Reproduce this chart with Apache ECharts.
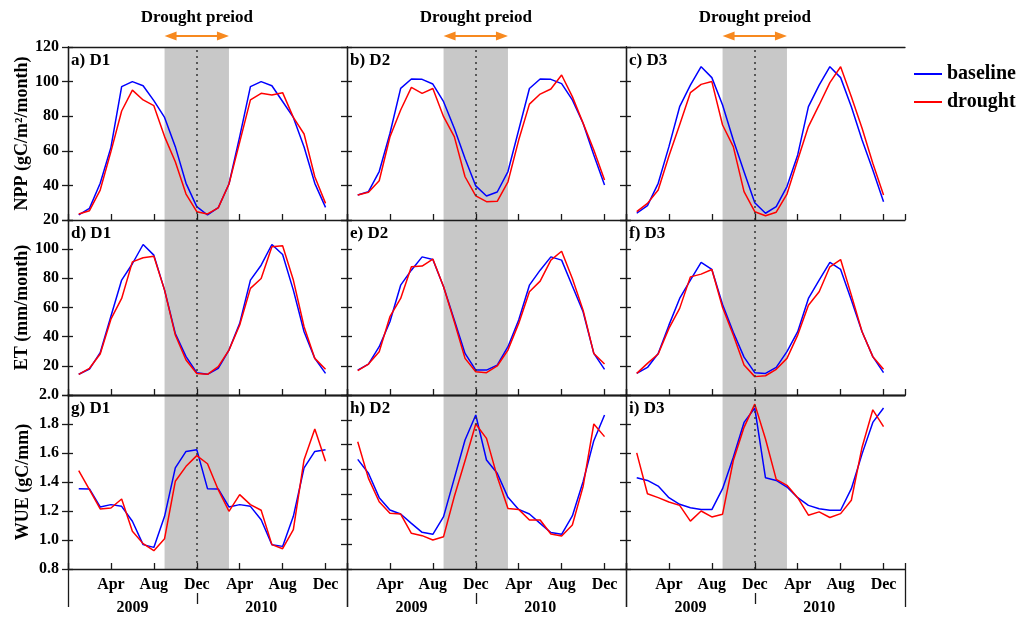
<!DOCTYPE html>
<html>
<head>
<meta charset="utf-8">
<script src="https://cdn.jsdelivr.net/npm/echarts@6/dist/echarts.min.js"></script>
<style>
  html, body { margin: 0; padding: 0; background: #fff; }
  #chart { width: 1026px; height: 623px; }
</style>
</head>
<body>
<div id="chart"></div>
<script>
// month number, Jan 2009 = 1 ... Dec 2010 = 24
const monthNo = [1, 2, 3, 4, 5, 6, 7, 8, 9, 10, 11, 12, 13, 14, 15, 16, 17, 18, 19, 20, 21, 22, 23, 24]
const tickMonths = [4, 8, 12, 16, 20, 24]
const tickNames = ['Apr', 'Aug', 'Dec', 'Apr', 'Aug', 'Dec']
const yearPos = [6, 18]
const yearNames = ['2009', '2010']
const droughtStart = 9
const droughtEnd = 15
const droughtMark = 12

// NPP (gC/m2/month)
const nppD1Base = [22.9, 26.7, 41.2, 62, 97.1, 100, 97.6, 89, 79.3, 62.4, 41.2, 27.7, 22.9, 27.1, 40.8, 68.2, 97.1, 100, 97.6, 88.5, 79.3, 62.2, 41.2, 27.3]
const nppD1Drought = [23.5, 25.4, 37.3, 59.5, 83, 95.1, 89.4, 86.1, 68.2, 53.7, 35, 24.8, 23.5, 27, 40.8, 65, 89.4, 93.2, 92.3, 93.6, 79.3, 69.7, 45, 29.6]
const nppD2Base = [34.5, 36.4, 48, 70, 96.1, 101.5, 101.3, 98.6, 88.4, 73, 55.6, 39.7, 33.9, 36.2, 48, 72, 96, 101.5, 101.3, 98.8, 89.4, 75.9, 57.6, 40.2]
const nppD2Drought = [34.5, 36, 42.7, 68, 83.6, 96.7, 93.2, 96, 79.7, 68.2, 45, 33.9, 30.6, 30.8, 42.1, 66.2, 87, 92.8, 95.7, 103.8, 91.3, 76, 60.5, 43.1]
const nppD3Base = [23.9, 28.3, 41.2, 62.4, 85.5, 98, 108.6, 102.3, 86.5, 66.2, 47.9, 30, 23.9, 27.7, 39.3, 57.6, 85.5, 98, 108.6, 102.3, 85.5, 66.2, 48.9, 30.6]
const nppD3Drought = [24.8, 29.6, 37.3, 57, 75, 93.6, 98.4, 100, 74.9, 62.4, 36.4, 24.8, 22.5, 24.5, 35, 54.7, 74, 86.5, 99.4, 108.6, 91.3, 73, 52.8, 34.5]

// ET (mm/month)
const etD1Base = [14.2, 17.8, 29, 54, 78.8, 90, 103.2, 95.9, 71.9, 42.2, 26.3, 15.3, 14.2, 18.3, 30.8, 49.1, 78.8, 89, 103.2, 96.3, 71.9, 43.4, 25.1, 14.8]
const etD1Drought = [14.2, 18.3, 28.1, 52, 66.2, 91.3, 94.1, 95.2, 71.9, 41.1, 24, 14.8, 14.2, 19.4, 30.8, 48, 73.1, 79.9, 101.6, 102.3, 78.8, 46.8, 25.1, 17.6]
const etD2Base = [17.1, 21.2, 33.1, 50.2, 75.3, 85.6, 94.7, 92.9, 74.2, 51.4, 28.5, 17.1, 17.1, 20.5, 33.1, 51.4, 75.3, 85.6, 94.7, 92.5, 74.7, 57.1, 28.5, 17.6]
const etD2Drought = [16.7, 21.2, 29.7, 53.7, 66.2, 87.9, 88.4, 93.2, 74.2, 50.2, 25.1, 16, 15.3, 19.9, 30.8, 49.1, 70.8, 78.1, 92.5, 98.6, 79.9, 58.2, 28.5, 21.2]
const etD3Base = [14.8, 18.9, 28.5, 47.9, 66.2, 78.8, 90.9, 86.1, 62, 43, 26, 15.3, 14.8, 18.9, 29.7, 43.4, 66.2, 78.8, 90.9, 86.1, 65.1, 43.4, 26.3, 15.3]
const etD3Drought = [14.8, 21.7, 28.1, 45.7, 59.4, 81, 82.9, 86.1, 60, 41.1, 20.5, 12.6, 13.2, 17.6, 25.1, 41.1, 61.6, 70.8, 87.9, 92.9, 68.5, 43.4, 26.3, 17.6]

// WUE (gC/mm)
const wueD1Base = [1.354, 1.352, 1.228, 1.244, 1.232, 1.129, 0.968, 0.949, 1.163, 1.497, 1.611, 1.623, 1.354, 1.352, 1.228, 1.244, 1.232, 1.14, 0.968, 0.956, 1.163, 1.497, 1.611, 1.623]
const wueD1Drought = [1.478, 1.347, 1.214, 1.221, 1.283, 1.06, 0.975, 0.926, 1.009, 1.405, 1.508, 1.582, 1.526, 1.347, 1.198, 1.313, 1.244, 1.205, 0.968, 0.94, 1.071, 1.554, 1.766, 1.543]
const wueD2Base = [1.556, 1.46, 1.292, 1.207, 1.179, 1.115, 1.053, 1.039, 1.161, 1.425, 1.69, 1.862, 1.552, 1.46, 1.294, 1.211, 1.179, 1.115, 1.051, 1.039, 1.166, 1.402, 1.685, 1.862]
const wueD2Drought = [1.678, 1.425, 1.264, 1.184, 1.179, 1.046, 1.03, 1.0, 1.023, 1.3, 1.547, 1.8, 1.701, 1.437, 1.218, 1.211, 1.138, 1.138, 1.041, 1.028, 1.103, 1.368, 1.8, 1.713]
const wueD3Base = [1.429, 1.411, 1.372, 1.292, 1.246, 1.223, 1.21, 1.21, 1.354, 1.571, 1.811, 1.91, 1.429, 1.411, 1.365, 1.292, 1.239, 1.216, 1.205, 1.205, 1.354, 1.594, 1.811, 1.91]
const wueD3Drought = [1.601, 1.319, 1.292, 1.262, 1.239, 1.13, 1.2, 1.159, 1.178, 1.548, 1.777, 1.937, 1.697, 1.418, 1.377, 1.292, 1.171, 1.194, 1.155, 1.182, 1.274, 1.64, 1.898, 1.782]

const FONT = 'Liberation Serif'
const BLUE = '#0000ff'
const RED = '#ff0000'
const INK = '#1a1a1a'

const colLeft = [68, 347, 626]
const colW = 279
const rowTop = [47, 220, 395]
const rowH = [173, 175, 174]

// one entry per row: y range, ticks, axis name
const rows = [
  { name: 'NPP (gC/m²/month)', min: 20, max: 120, interval: 20, hide: [], fmt: (v) => String(v),
    panels: [['a) D1', nppD1Base, nppD1Drought], ['b) D2', nppD2Base, nppD2Drought], ['c) D3', nppD3Base, nppD3Drought]] },
  { name: 'ET (mm/month)', min: 0, max: 120, interval: 20, hide: [0, 120], fmt: (v) => String(v),
    panels: [['d) D1', etD1Base, etD1Drought], ['e) D2', etD2Base, etD2Drought], ['f) D3', etD3Base, etD3Drought]] },
  { name: 'WUE (gC/mm)', min: 0.8, max: 2.0, interval: 0.2, hide: [], fmt: (v) => v.toFixed(1),
    panels: [['g) D1', wueD1Base, wueD1Drought], ['h) D2', wueD2Base, wueD2Drought], ['i) D3', wueD3Base, wueD3Drought]] },
]

const pairs = (vals) => vals.map((v, i) => [monthNo[i], v])
const lineStyle = { color: INK, width: 1.3 }

const grid = []
const xAxis = []
const yAxis = []
const series = []
const title = []

rows.forEach((row, r) => {
  row.panels.forEach((p, c) => {
    const gi = grid.length
    grid.push({ left: colLeft[c], top: rowTop[r], width: colW, height: rowH[r], show: false })
    title.push({
      text: p[0], left: colLeft[c] + 3, top: rowTop[r] + 5, padding: 0,
      textStyle: { fontFamily: FONT, fontWeight: 'bold', fontSize: 17, color: '#000' },
    })
    // panel h uses its own tick spacing
    const yInterval = (r === 2 && c === 1) ? 1.2 / 7 : row.interval
    const xi = xAxis.length
    xAxis.push({
      gridIndex: gi, type: 'value', min: 0, max: 26, interval: 4, z: 10,
      axisLine: { lineStyle },
      axisTick: { inside: true, length: 6, lineStyle },
      axisLabel: {
        show: r === 2, margin: 8, fontFamily: FONT, fontWeight: 'bold', fontSize: 16, color: '#000',
        formatter: (v) => { const k = tickMonths.indexOf(v); return k >= 0 ? tickNames[k] : '' },
      },
      splitLine: { show: false },
    })
    xAxis.push({
      gridIndex: gi, type: 'value', position: 'top', min: 0, max: 26, z: 10,
      axisLine: { lineStyle },
      axisTick: { show: false }, axisLabel: { show: false }, splitLine: { show: false },
    })
    if (r === 2) {
      // year row below the month labels
      xAxis.push({
        gridIndex: gi, type: 'value', position: 'bottom', offset: 24, min: 0, max: 26, z: 10,
        axisLine: { show: false },
        axisTick: { show: true, customValues: [droughtMark], length: 11, lineStyle },
        axisLabel: {
          show: true, customValues: yearPos, margin: 7, fontFamily: FONT, fontWeight: 'bold', fontSize: 16, color: '#000',
          formatter: (v) => { const k = yearPos.indexOf(v); return k >= 0 ? yearNames[k] : '' },
        },
        splitLine: { show: false },
      })
      // panel side lines running down past the labels
      xAxis.push({
        gridIndex: gi, type: 'value', position: 'bottom', min: 0, max: 26, z: 10,
        axisLine: { show: false },
        axisTick: { show: true, customValues: [0, 26], length: 38, lineStyle },
        axisLabel: { show: false }, splitLine: { show: false },
      })
    }
    const yi = yAxis.length
    yAxis.push({
      gridIndex: gi, type: 'value', min: row.min, max: row.max, interval: yInterval, z: 10,
      name: c === 0 ? row.name : '', nameLocation: 'middle', nameGap: 36,
      nameTextStyle: { fontFamily: FONT, fontWeight: 'bold', fontSize: 18, color: '#000' },
      axisLine: { show: true, lineStyle },
      axisTick: { show: true, length: 6, lineStyle },
      axisLabel: {
        show: c === 0, margin: 9, fontFamily: FONT, fontWeight: 'bold', fontSize: 16, color: '#000',
        formatter: (v) => row.hide.includes(v) ? '' : row.fmt(v),
      },
      splitLine: { show: false },
    })
    yAxis.push({
      gridIndex: gi, type: 'value', position: 'right', min: row.min, max: row.max, interval: yInterval, z: 10,
      axisLine: { show: true, lineStyle },
      axisTick: { show: true, length: 5, lineStyle },
      axisLabel: { show: false }, splitLine: { show: false },
    })
    // drought period shading + dotted marker
    series.push({
      name: 'period', type: 'line', data: [], xAxisIndex: xi, yAxisIndex: yi, z: 1, silent: true,
      markArea: { silent: true, itemStyle: { color: '#c8c8c8' }, data: [[{ xAxis: droughtStart }, { xAxis: droughtEnd }]] },
      markLine: {
        silent: true, symbol: 'none', label: { show: false },
        lineStyle: { type: [2, 4], color: '#333', width: 1.5 },
        data: [{ xAxis: droughtMark }],
      },
    })
    series.push({
      name: 'baseline', type: 'line', data: pairs(p[1]), xAxisIndex: xi, yAxisIndex: yi, z: 3,
      symbol: 'none', lineStyle: { color: BLUE, width: 1.5 }, itemStyle: { color: BLUE },
    })
    series.push({
      name: 'drought', type: 'line', data: pairs(p[2]), xAxisIndex: xi, yAxisIndex: yi, z: 4,
      symbol: 'none', lineStyle: { color: RED, width: 1.5 }, itemStyle: { color: RED },
    })
  })
})

const chart = echarts.init(document.getElementById('chart'), null, { renderer: 'canvas' })
chart.setOption({
  animation: false,
  backgroundColor: '#fff',
  title,
  grid,
  xAxis,
  yAxis,
  series,
  legend: {
    data: ['baseline', 'drought'], orient: 'vertical', left: 914, top: 64, itemGap: 8,
    itemWidth: 28, itemHeight: 2, icon: 'rect', padding: 0,
    textStyle: { fontFamily: FONT, fontWeight: 'bold', fontSize: 20, color: '#000' },
  },
})

// "Drought preiod" arrows above each column
const ORANGE = '#f7891f'
const graphic = []
for (let c = 0; c < 3; c++) {
  const a = chart.convertToPixel({ gridIndex: c }, [droughtStart, 120])
  const b = chart.convertToPixel({ gridIndex: c }, [droughtEnd, 120])
  const m = chart.convertToPixel({ gridIndex: c }, [droughtMark, 120])
  const y = 36
  const head = 12
  graphic.push({ type: 'line', shape: { x1: a[0] + 4, y1: y, x2: b[0] - 4, y2: y }, style: { stroke: ORANGE, lineWidth: 2 } })
  graphic.push({ type: 'polygon', shape: { points: [[a[0], y], [a[0] + head, y - 4.5], [a[0] + head, y + 4.5]] }, style: { fill: ORANGE } })
  graphic.push({ type: 'polygon', shape: { points: [[b[0], y], [b[0] - head, y - 4.5], [b[0] - head, y + 4.5]] }, style: { fill: ORANGE } })
  graphic.push({
    type: 'text', x: m[0], y: 18,
    style: { text: 'Drought preiod', fontFamily: FONT, fontWeight: 'bold', fontSize: 17, fill: '#000', align: 'center', verticalAlign: 'middle' },
  })
}
chart.setOption({ graphic })
</script>
</body>
</html>
